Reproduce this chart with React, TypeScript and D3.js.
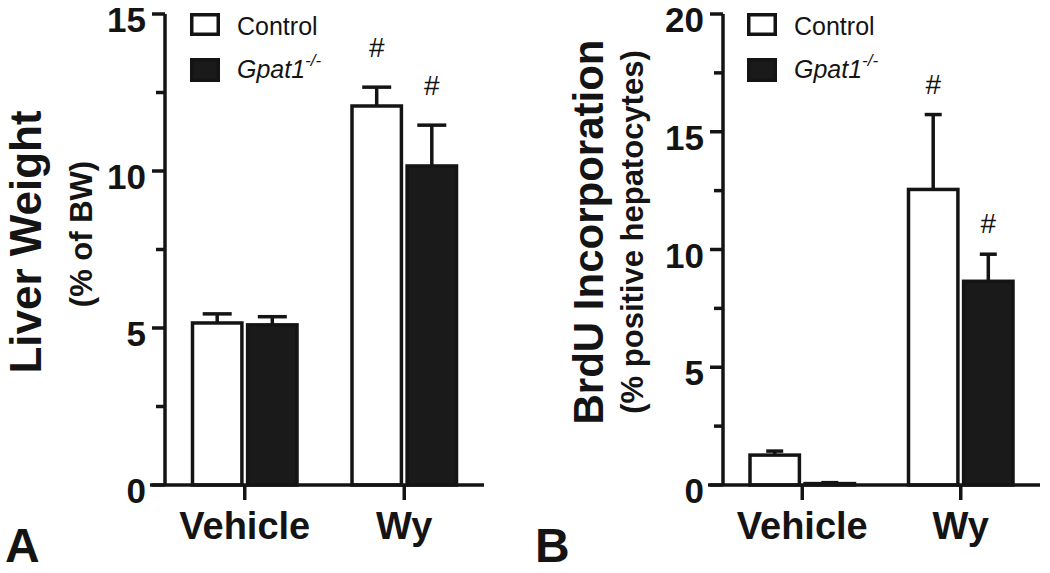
import React from 'react';
import * as d3 from 'd3';

const groups = ['Vehicle', 'Wy'];
const seriesNames = ['Control', 'Gpat1'];

// panel A: liver weight (% of BW)
const liverControl = [5.16, 12.07];
const liverControlErr = [0.29, 0.6];
const liverKo = [5.1, 10.16];
const liverKoErr = [0.26, 1.3];
const liverControlSig = [false, true];
const liverKoSig = [false, true];
const liverTicks = [0, 5, 10, 15];

// panel B: BrdU incorporation (% positive hepatocytes)
const brduControl = [1.27, 12.55];
const brduControlErr = [0.17, 3.18];
const brduKo = [0.06, 8.65];
const brduKoErr = [0.04, 1.15];
const brduControlSig = [false, true];
const brduKoSig = [false, true];
const brduTicks = [0, 5, 10, 15, 20];

const FONT = 'Liberation Sans, Arial, Helvetica, sans-serif';
const INK = '#141414';
const SW = 3.5;

type PanelProps = {
  axisX: number;
  axisEnd: number;
  top: number;
  ticks: number[];
  control: number[];
  controlErr: number[];
  ko: number[];
  koErr: number[];
  controlSig: boolean[];
  koSig: boolean[];
  capW: number;
  hashGap: number;
  title: string;
  titleX: number;
  titleY: number;
  titleSize: number;
  subtitle: string;
  subX: number;
  subY: number;
  legendX: number;
  letter: string;
  letterX: number;
};

const Panel = (p: PanelProps) => {
  const base = 485;
  const max = p.ticks[p.ticks.length - 1];
  const y = d3.scaleLinear().domain([0, max]).range([base, p.top]);
  const gx = d3.scalePoint().domain(groups).range([p.axisX, p.axisEnd]).padding(0.5);
  const sx = d3.scaleBand().domain(seriesNames).range([-54, 54]).paddingInner(0.04);
  const bw = sx.bandwidth();
  const step = p.ticks[1] - p.ticks[0];
  const minor = p.ticks.slice(0, -1).map((t) => t + step / 2);

  const series = [
    { name: 'Control', vals: p.control, errs: p.controlErr, sig: p.controlSig, fill: '#fff' },
    { name: 'Gpat1', vals: p.ko, errs: p.koErr, sig: p.koSig, fill: '#1a1a1a' },
  ];

  return (
    <g>
      {/* bars */}
      {series.map((s) =>
        groups.map((g, i) => {
          const left = (gx(g) as number) + (sx(s.name) as number);
          const cx = left + bw / 2;
          const top = y(s.vals[i]);
          const errTop = y(s.vals[i] + s.errs[i]);
          return (
            <g key={s.name + g}>
              <line x1={cx} x2={cx} y1={top} y2={errTop} stroke={INK} strokeWidth={SW} />
              <line x1={cx - p.capW / 2} x2={cx + p.capW / 2} y1={errTop} y2={errTop} stroke={INK} strokeWidth={SW} />
              <rect
                x={left + SW / 2}
                y={top}
                width={bw - SW}
                height={Math.max(base - top, 0.5)}
                fill={s.fill}
                stroke={INK}
                strokeWidth={SW}
              />
              {s.sig[i] && (
                <text x={cx} y={errTop - p.hashGap} textAnchor="middle" fontSize={28} fontFamily={FONT} fill={INK}>
                  #
                </text>
              )}
            </g>
          );
        })
      )}

      {/* y axis */}
      <line x1={p.axisX} x2={p.axisX} y1={base} y2={y(max)} stroke={INK} strokeWidth={SW} />
      {p.ticks.map((t) => (
        <g key={'t' + t}>
          <line x1={p.axisX - 13} x2={p.axisX} y1={y(t)} y2={y(t)} stroke={INK} strokeWidth={SW} />
          <text
            x={p.axisX - 19}
            y={y(t) + 18}
            textAnchor="end"
            fontSize={35}
            fontWeight="bold"
            fontFamily={FONT}
            fill={INK}
          >
            {t}
          </text>
        </g>
      ))}
      {minor.map((t) => (
        <line key={'m' + t} x1={p.axisX - 9} x2={p.axisX} y1={y(t)} y2={y(t)} stroke={INK} strokeWidth={SW} />
      ))}

      {/* x axis */}
      <line x1={p.axisX - 15} x2={p.axisEnd} y1={base} y2={base} stroke={INK} strokeWidth={SW} />
      {groups.map((g) => (
        <g key={'x' + g}>
          <line x1={gx(g)} x2={gx(g)} y1={base} y2={base + 15} stroke={INK} strokeWidth={SW} />
          <text
            x={gx(g)}
            y={539}
            textAnchor="middle"
            fontSize={38}
            fontWeight="bold"
            fontFamily={FONT}
            fill={INK}
          >
            {g}
          </text>
        </g>
      ))}

      {/* axis titles */}
      <text
        transform={`translate(${p.titleX},${p.titleY}) rotate(-90)`}
        textAnchor="middle"
        fontSize={p.titleSize}
        fontWeight="bold"
        fontFamily={FONT}
        fill={INK}
      >
        {p.title}
      </text>
      <text
        transform={`translate(${p.subX},${p.subY}) rotate(-90)`}
        textAnchor="middle"
        fontSize={31}
        fontWeight="bold"
        fontFamily={FONT}
        fill={INK}
      >
        {p.subtitle}
      </text>

      {/* legend */}
      <rect x={p.legendX + SW / 2} y={13 + SW / 2} width={30 - SW} height={23 - SW} fill="#fff" stroke={INK} strokeWidth={SW} />
      <rect x={p.legendX + SW / 2} y={58 + SW / 2} width={30 - SW} height={24 - SW} fill="#1a1a1a" stroke={INK} strokeWidth={SW} />
      <text x={p.legendX + 47} y={35} fontSize={25} fontFamily={FONT} fill={INK}>
        Control
      </text>
      <text x={p.legendX + 47} y={78} fontSize={25} fontFamily={FONT} fontStyle="italic" fill={INK}>
        Gpat1
        <tspan fontSize={17} dy={-12}>
          -/-
        </tspan>
      </text>

      {/* panel letter */}
      <text x={p.letterX} y={562} fontSize={48} fontWeight="bold" fontFamily={FONT} fill={INK}>
        {p.letter}
      </text>
    </g>
  );
};

const App = () => {
  return (
    <svg
      width={1050}
      height={573}
      viewBox="0 0 1050 573"
      style={{ position: 'absolute', left: 0, top: 0, background: '#fff' }}
    >
      <Panel
        axisX={165}
        axisEnd={484}
        top={14}
        ticks={liverTicks}
        control={liverControl}
        controlErr={liverControlErr}
        ko={liverKo}
        koErr={liverKoErr}
        controlSig={liverControlSig}
        koSig={liverKoSig}
        capW={29}
        hashGap={30}
        title="Liver Weight"
        titleX={41}
        titleY={242}
        titleSize={44}
        subtitle="(% of BW)"
        subX={92}
        subY={234}
        legendX={190}
        letter="A"
        letterX={5}
      />
      <Panel
        axisX={723}
        axisEnd={1040}
        top={14}
        ticks={brduTicks}
        control={brduControl}
        controlErr={brduControlErr}
        ko={brduKo}
        koErr={brduKoErr}
        controlSig={brduControlSig}
        koSig={brduKoSig}
        capW={17}
        hashGap={21}
        title="BrdU Incorporation"
        titleX={603}
        titleY={232}
        titleSize={42}
        subtitle="(% positive hepatocytes)"
        subX={643}
        subY={232}
        legendX={747}
        letter="B"
        letterX={535}
      />
    </svg>
  );
};

export default App;
